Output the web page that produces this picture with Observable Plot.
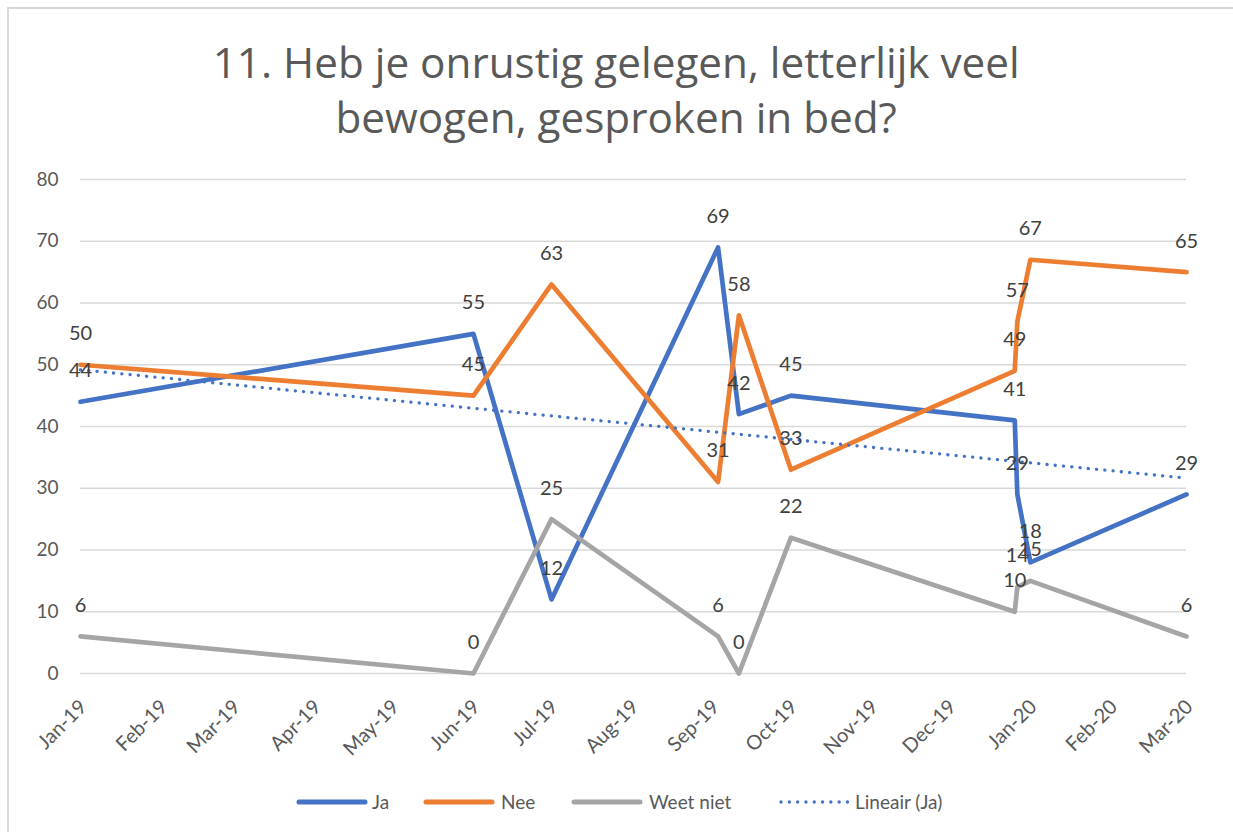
<!DOCTYPE html>
<html>
<head>
<meta charset="utf-8">
<script src="https://cdn.jsdelivr.net/npm/d3@7"></script>
<script src="https://cdn.jsdelivr.net/npm/@observablehq/plot@0.6"></script>
<style>
  html, body { margin: 0; padding: 0; background: #fff; }
  #chart { position: relative; width: 1233px; height: 832px; overflow: hidden; background: #fff; font-family: "Open Sans", Lato, sans-serif; }
  #frame { position: absolute; left: 7px; top: 7px; width: 1300px; height: 900px; border: 2px solid #d9d9d9; box-sizing: border-box; }
  .title { position: absolute; left: 0; width: 1233px; text-align: center; font-size: 42px; line-height: 42px; color: #595959; white-space: nowrap; }
  .title span { display: inline-block; transform-origin: center; }
  #plot { position: absolute; left: 0; top: 140px; }
  .leg { position: absolute; top: 790px; height: 24px; font-family: Lato, sans-serif; font-size: 19px; color: #595959; line-height: 24px; white-space: nowrap; }
</style>
</head>
<body>
<div id="chart">
  <div id="frame"></div>
  <div class="title" id="t1" style="top:41px"><span>11. Heb je onrustig gelegen, letterlijk veel</span></div>
  <div class="title" id="t2" style="top:96px"><span>bewogen, gesproken in bed?</span></div>
  <div id="plot"></div>
  <div id="legend"></div>
</div>
<script>
// ---- data ----
const dates = ["2019-01-01","2019-06-01","2019-07-01","2019-09-03","2019-09-11","2019-10-01","2019-12-26","2019-12-27","2020-01-01","2020-03-01"];
const ja = [44, 55, 12, 69, 42, 45, 41, 29, 18, 29];
const nee = [50, 45, 63, 31, 58, 33, 49, 57, 67, 65];
const weetNiet = [6, 0, 25, 6, 0, 22, 10, 14, 15, 6];
const seriesNames = ["Ja", "Nee", "Weet niet"];
const trendName = "Lineair (Ja)";
const yTicks = [0, 10, 20, 30, 40, 50, 60, 70, 80];
const xTicks = ["2019-01-01","2019-02-01","2019-03-01","2019-04-01","2019-05-01","2019-06-01","2019-07-01","2019-08-01","2019-09-01","2019-10-01","2019-11-01","2019-12-01","2020-01-01","2020-02-01","2020-03-01"];

const colors = {"Ja": "#4472C4", "Nee": "#ED7D31", "Weet niet": "#A5A5A5"};
const parse = d3.utcParse("%Y-%m-%d");
const rows = [];
[ja, nee, weetNiet].forEach((vals, si) => {
  vals.forEach((v, i) => rows.push({date: parse(dates[i]), value: v, series: seriesNames[si]}));
});
const bySeries = name => rows.filter(r => r.series === name);

const fmt = d3.utcFormat("%b-%y");

const plot = Plot.plot({
  width: 1233,
  height: 640,
  marginLeft: 80,
  marginRight: 47,
  marginTop: 39,
  marginBottom: 107,
  style: {fontFamily: "Lato, sans-serif", fontSize: "19px", color: "#595959", background: "transparent", overflow: "visible"},
  x: {type: "utc", domain: [parse(xTicks[0]), parse(xTicks[xTicks.length - 1])]},
  y: {domain: [0, 80]},
  marks: [
    Plot.ruleY(yTicks, {stroke: "#d9d9d9", strokeWidth: 1.5}),
    Plot.axisY({ticks: yTicks, tickSize: 0, tickPadding: 22, label: null, fill: "#595959", fontSize: 19}),
    Plot.axisX({ticks: xTicks.map(parse), tickFormat: fmt, tickRotate: -45, tickSize: 0, tickPadding: 21, dx: 3, dy: 9, label: null, fill: "#595959", fontSize: 20}),
    ...seriesNames.map(name => Plot.line(bySeries(name), {x: "date", y: "value", stroke: colors[name], strokeWidth: 4.7, strokeLinejoin: "round"})),
    Plot.linearRegressionY(bySeries("Ja"), {x: "date", y: "value", ci: 0, stroke: colors["Ja"], strokeWidth: 3.3, strokeDasharray: "0.1 8.2", strokeLinecap: "round"}),
    ...seriesNames.map(name => Plot.text(bySeries(name), {x: "date", y: "value", text: d => String(d.value), dy: -31, fill: "#404040", fontSize: 20, fontFamily: "Lato, sans-serif"}))
  ]
});
document.getElementById("plot").appendChild(plot);

// fit title lines to reference width
const s1 = document.querySelector("#t1 span");
const s2 = document.querySelector("#t2 span");
const k = 807 / s1.getBoundingClientRect().width;
s1.style.transform = `scaleX(${k})`;
s2.style.transform = `scaleX(${k})`;

// legend
const legendItems = [
  {label: seriesNames[0], color: colors["Ja"], dotted: false, sx: 296, tx: 372},
  {label: seriesNames[1], color: colors["Nee"], dotted: false, sx: 423, tx: 501},
  {label: seriesNames[2], color: colors["Weet niet"], dotted: false, sx: 571, tx: 649},
  {label: trendName, color: colors["Ja"], dotted: true, sx: 778, tx: 855}
];
const leg = document.getElementById("legend");
legendItems.forEach(it => {
  const sw = document.createElement("div");
  sw.className = "leg";
  sw.style.left = it.sx + "px";
  sw.innerHTML = it.dotted
    ? `<svg width="72" height="24"><line x1="3" y1="12" x2="70" y2="12" stroke="${it.color}" stroke-width="3.3" stroke-dasharray="0.1 8.2" stroke-linecap="round"/></svg>`
    : `<svg width="72" height="24"><line x1="3" y1="12" x2="69" y2="12" stroke="${it.color}" stroke-width="5" stroke-linecap="round"/></svg>`;
  leg.appendChild(sw);
  const tx = document.createElement("div");
  tx.className = "leg";
  tx.style.left = it.tx + "px";
  tx.textContent = it.label;
  leg.appendChild(tx);
});
</script>
</body>
</html>
